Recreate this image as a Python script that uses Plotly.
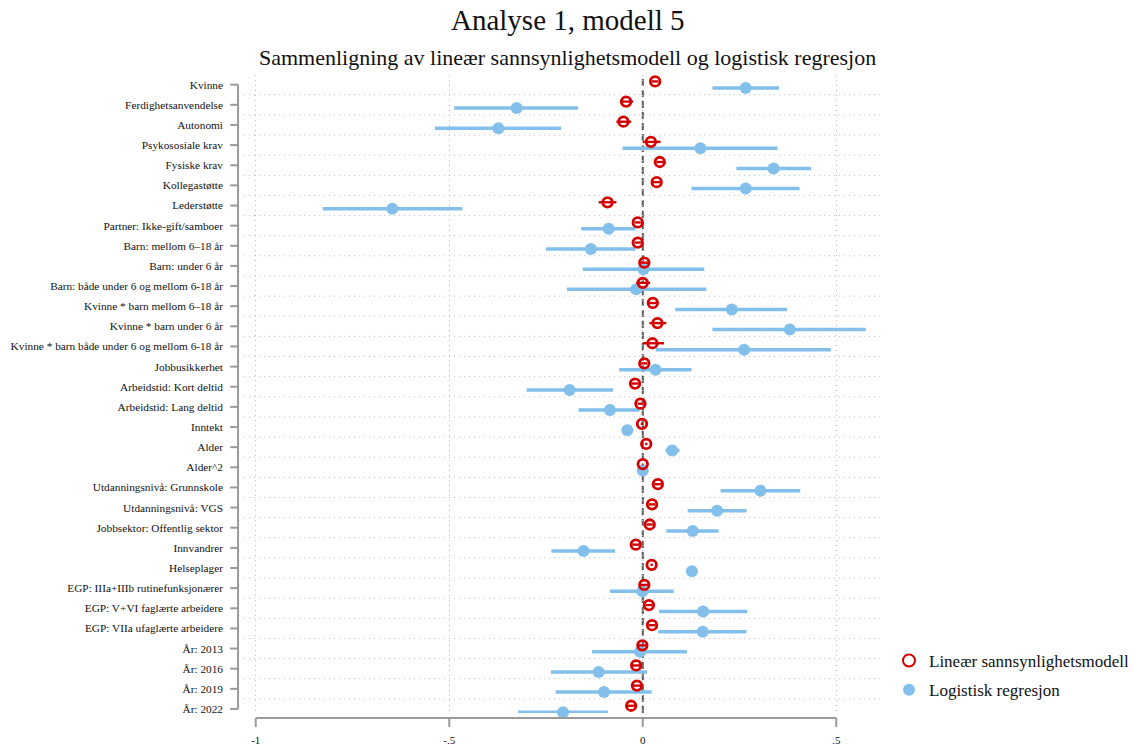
import plotly.graph_objects as go

labels = [
    "Kvinne", "Ferdighetsanvendelse", "Autonomi", "Psykososiale krav", "Fysiske krav",
    "Kollegastøtte", "Lederstøtte", "Partner: Ikke-gift/samboer", "Barn: mellom 6–18 år",
    "Barn: under 6 år", "Barn: både under 6 og mellom 6-18 år", "Kvinne * barn mellom 6–18 år",
    "Kvinne * barn under 6 år", "Kvinne * barn både under 6 og mellom 6-18 år", "Jobbusikkerhet",
    "Arbeidstid: Kort deltid", "Arbeidstid: Lang deltid", "Inntekt", "Alder", "Alder^2",
    "Utdanningsnivå: Grunnskole", "Utdanningsnivå: VGS", "Jobbsektor: Offentlig sektor",
    "Innvandrer", "Helseplager", "EGP: IIIa+IIIb rutinefunksjonærer",
    "EGP: V+VI faglærte arbeidere", "EGP: VIIa ufaglærte arbeidere",
    "År: 2013", "År: 2016", "År: 2019", "År: 2022",
]

lpm = [0.032, -0.043, -0.050, 0.021, 0.044, 0.036, -0.091, -0.013, -0.013, 0.004, 0.000,
       0.026, 0.038, 0.025, 0.004, -0.020, -0.006, -0.002, 0.009, 0.000, 0.039, 0.024,
       0.018, -0.018, 0.023, 0.004, 0.016, 0.024, -0.001, -0.017, -0.015, -0.030]
lpm_lo = [0.024, -0.059, -0.068, 0.000, 0.035, 0.024, -0.114, -0.021, -0.021, -0.009, -0.017,
          0.013, 0.017, 0.000, -0.004, -0.029, -0.013, -0.005, 0.006, -0.001, 0.030, 0.016,
          0.010, -0.027, 0.020, -0.008, 0.008, 0.015, -0.013, -0.029, -0.027, -0.042]
lpm_hi = [0.040, -0.025, -0.030, 0.046, 0.053, 0.050, -0.068, -0.005, -0.005, 0.019, 0.019,
          0.040, 0.061, 0.055, 0.012, -0.011, 0.001, 0.001, 0.012, 0.001, 0.048, 0.032,
          0.026, -0.009, 0.026, 0.016, 0.024, 0.033, 0.012, -0.002, -0.001, -0.017]

logit = [0.266, -0.326, -0.373, 0.149, 0.338, 0.266, -0.647, -0.088, -0.134, 0.002, -0.017,
         0.230, 0.380, 0.262, 0.033, -0.189, -0.085, -0.040, 0.076, 0.000, 0.304, 0.192,
         0.129, -0.153, 0.127, -0.001, 0.156, 0.155, -0.007, -0.114, -0.100, -0.206]
logit_lo = [0.180, -0.487, -0.537, -0.052, 0.242, 0.126, -0.827, -0.159, -0.250, -0.155, -0.196,
            0.084, 0.180, 0.034, -0.061, -0.300, -0.166, -0.053, 0.059, -0.001, 0.201, 0.116,
            0.061, -0.236, 0.122, -0.085, 0.042, 0.040, -0.131, -0.237, -0.225, -0.322]
logit_hi = [0.352, -0.167, -0.211, 0.348, 0.435, 0.405, -0.466, -0.019, -0.019, 0.159, 0.164,
            0.373, 0.576, 0.486, 0.126, -0.077, -0.008, -0.026, 0.095, 0.001, 0.407, 0.268,
            0.196, -0.072, 0.132, 0.080, 0.270, 0.268, 0.114, 0.011, 0.023, -0.090]

xtick_vals = [-1, -0.5, 0, 0.5]
xtick_text = ["-1", "-.5", "0", ".5"]

RED = "#d40000"
BLUE = "#82bfea"
FONT = "Liberation Serif"
GRID = "#b9b9b9"
AX = "#9a9a9a"

W, H = 1135, 749
ML, MR, MT, MB = 224, 255, 75, 36
PH = H - MT - MB
PW = W - ML - MR

XR = [-1.082, 0.613]     # x range of plotting region
YR = [31.2, -0.48]       # y range (reversed, categories top to bottom)
X_AXLINE = -1.0457       # where the y axis line sits (left of -1)
X_TICKEND = -1.066
X_GRIDSTART = -1.030

n = len(labels)
pos = list(range(n))
off = 0.16

fig = go.Figure()
fig.add_trace(go.Scatter(
    x=logit, y=[p + off for p in pos], mode="markers", name="Logistisk regresjon",
    legendgroup="b", legendrank=2,
    marker=dict(symbol="circle", size=12, color=BLUE),
    error_x=dict(type="data", symmetric=False,
                 array=[h - v for h, v in zip(logit_hi, logit)],
                 arrayminus=[v - l for v, l in zip(logit, logit_lo)],
                 color=BLUE, thickness=3.5, width=0),
    cliponaxis=False,
))
fig.add_trace(go.Scatter(
    x=lpm, y=[p - off for p in pos], mode="markers", name="Lineær sannsynlighetsmodell",
    legendgroup="a", legendrank=1,
    marker=dict(symbol="circle-open", size=9.5, color=RED, line=dict(width=2.8)),
    error_x=dict(type="data", symmetric=False,
                 array=[h - v for h, v in zip(lpm_hi, lpm)],
                 arrayminus=[v - l for v, l in zip(lpm, lpm_lo)],
                 color=RED, thickness=2.4, width=0),
    cliponaxis=False,
))

shapes = []
# dotted separators between rows
for p in pos[:-1]:
    shapes.append(dict(type="line", xref="x", yref="y", x0=X_GRIDSTART, x1=XR[1],
                       y0=p + 0.5, y1=p + 0.5, layer="below",
                       line=dict(color=GRID, width=1, dash="1px,4px")))
# zero reference line
shapes.append(dict(type="line", xref="x", yref="paper", x0=0, x1=0, y0=0, y1=1,
                   line=dict(color="#5a5a5a", width=2, dash="7px,4px"), layer="below"))
# y axis line and ticks
shapes.append(dict(type="line", xref="x", yref="y", x0=X_AXLINE, x1=X_AXLINE,
                   y0=pos[0], y1=pos[-1], line=dict(color=AX, width=2)))
for p in pos:
    shapes.append(dict(type="line", xref="x", yref="y", x0=X_AXLINE, x1=X_TICKEND,
                       y0=p, y1=p, line=dict(color=AX, width=2)))
# x axis line and ticks
xa = -5 / PH
xt = -14 / PH
shapes.append(dict(type="line", xref="x", yref="paper", x0=xtick_vals[0], x1=xtick_vals[-1],
                   y0=xa, y1=xa, line=dict(color=AX, width=2)))
for v in xtick_vals:
    shapes.append(dict(type="line", xref="x", yref="paper", x0=v, x1=v,
                       y0=xa, y1=xt, line=dict(color=AX, width=2)))

fig.update_layout(
    width=W, height=H,
    margin=dict(l=ML, r=MR, t=MT, b=MB, autoexpand=False),
    paper_bgcolor="white", plot_bgcolor="white",
    font=dict(family=FONT, color="#111111"),
    showlegend=True,
    legend=dict(x=(889 - ML) / PW, y=(H - MB - 643) / PH, xanchor="left", yanchor="top",
                font=dict(family=FONT, size=17, color="#111111"),
                traceorder="grouped", itemsizing="constant",
                bgcolor="rgba(0,0,0,0)", tracegroupgap=4),
    xaxis=dict(range=XR, tickvals=xtick_vals, ticktext=xtick_text, automargin=False,
               ticks="outside", ticklen=17, tickcolor="rgba(0,0,0,0)",
               tickfont=dict(family=FONT, size=11, color="#111111"),
               showgrid=True, gridcolor=GRID, griddash="1px,4px", gridwidth=1,
               zeroline=False, showline=False),
    yaxis=dict(range=YR, tickvals=pos, ticktext=labels, automargin=False,
               ticks="", tickfont=dict(family=FONT, size=11.3, color="#111111"),
               showgrid=False, zeroline=False, showline=False),
    shapes=shapes,
    annotations=[
        dict(text="Analyse 1, modell 5", xref="paper", yref="paper",
             x=(567.5 - ML) / PW, y=(H - MB - 20) / PH, xanchor="center", yanchor="middle",
             showarrow=False, font=dict(family=FONT, size=29, color="#111111")),
        dict(text="Sammenligning av lineær sannsynlighetsmodell og logistisk regresjon",
             xref="paper", yref="paper",
             x=(567.5 - ML) / PW, y=(H - MB - 58) / PH, xanchor="center", yanchor="middle",
             showarrow=False, font=dict(family=FONT, size=22, color="#111111")),
    ],
)

fig.write_html("out.html")
